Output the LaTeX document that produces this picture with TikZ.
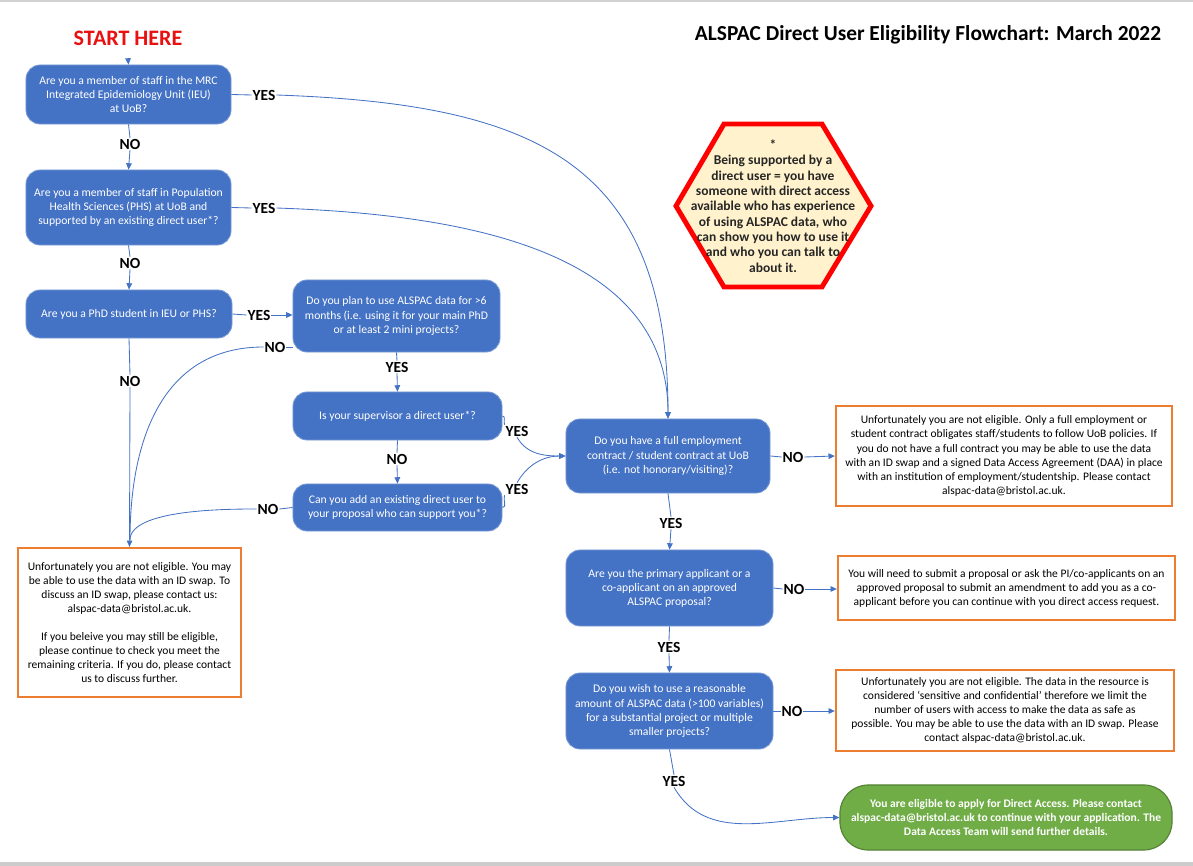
\documentclass[tikz,border=0pt]{standalone}
\usepackage{fontspec}
\setmainfont{Carlito}
\usetikzlibrary{arrows.meta}

\definecolor{qblue}{HTML}{4472C4}
\definecolor{qorange}{HTML}{ED7D31}
\definecolor{qgreen}{HTML}{70AD47}
\definecolor{qgreenedge}{HTML}{548235}
\definecolor{noteyellow}{HTML}{FFF2CC}
\definecolor{notered}{HTML}{FF0000}
\definecolor{startred}{HTML}{E81010}

\tikzset{
  question/.style={draw=qblue!70!white, line width=0.6pt, fill=qblue, text=white,
    rounded corners=10pt, align=center, inner sep=2pt,
    font=\fontsize{8.3}{10}\selectfont},
  outcome/.style={draw=qorange, line width=1.6pt, fill=white, align=center,
    inner sep=2pt, font=\fontsize{8.2}{10}\selectfont},
  answer/.style={inner sep=0.6pt, font=\fontsize{11}{13}\selectfont\bfseries},
  flow/.style={draw=qblue, line width=0.6pt},
  >={Triangle[length=4.5pt,width=4pt]}
}

\begin{document}
\begin{tikzpicture}[x=0.025cm, y=-0.025cm]
        \useasboundingbox (0,0) rectangle (1193,866);
        \fill[gray!35] (0,0) rectangle (1193,2);
        \fill[gray!40] (0,862) rectangle (1193,866);

        \node[text=startred, font=\fontsize{15.7}{18}\selectfont\bfseries] (start) at (128,38) {START HERE};
        \node[font=\fontsize{15.2}{18}\selectfont\bfseries] (title) at (928,35) {ALSPAC Direct User Eligibility Flowchart: March 2022};

        \node[question, minimum width=5.125cm, minimum height=1.475cm] (b1) at (128.5,94.5) {Are you a member of staff in the MRC\\Integrated Epidemiology Unit (IEU)\\at UoB?};
        \node[question, minimum width=5.125cm, minimum height=1.875cm] (b2) at (128.5,207.5) {Are you a member of staff in Population\\Health Sciences (PHS) at UoB and\\supported by an existing direct user*?};
        \node[question, minimum width=5.15cm, minimum height=1.2cm] (b3) at (129,314) {Are you a PhD student in IEU or PHS?};
        \node[question, minimum width=5.175cm, minimum height=1.8cm] (b4) at (396.5,316) {Do you plan to use ALSPAC data for >6\\months (i.e. using it for your main PhD\\or at least 2 mini projects?};
        \node[question, minimum width=5.225cm, minimum height=1.2cm] (b5) at (397.5,416) {Is your supervisor a direct user*?};
        \node[question, minimum width=5.225cm, minimum height=1.175cm] (b6) at (397.5,507.5) {Can you add an existing direct user to\\your proposal who can support you*?};
        \node[question, minimum width=5.1cm, minimum height=1.85cm] (b7) at (668,456) {Do you have a full employment\\contract / student contract at UoB\\(i.e. not honorary/visiting)?};
        \node[question, minimum width=5.175cm, minimum height=1.9cm] (b8) at (669.5,588) {Are you the primary applicant or a\\co-applicant on an approved\\ALSPAC proposal?};
        \node[question, minimum width=5.175cm, minimum height=1.9cm] (b9) at (669.5,711) {Do you wish to use a reasonable\\amount of ALSPAC data (>100 variables)\\for a substantial project or multiple\\smaller projects?};

        \node[outcome, minimum width=5.575cm, minimum height=3.725cm] (r0) at (129.5,622.5) {Unfortunately you are not eligible. You may\\be able to use the data with an ID swap. To\\discuss an ID swap, please contact us:\\alspac-data@bristol.ac.uk.\\[10pt]If you beleive you may still be eligible,\\please continue to check you meet the\\remaining criteria. If you do, please contact\\us to discuss further.};
        \node[outcome, minimum width=8.4cm, minimum height=2.5cm] (r1) at (1004,456) {Unfortunately you are not eligible. Only a full employment or\\student contract obligates staff/students to follow UoB policies. If\\you do not have a full contract you may be able to use the data\\with an ID swap and a signed Data Access Agreement (DAA) in place\\with an institution of employment/studentship. Please contact\\alspac-data@bristol.ac.uk.};
        \node[outcome, minimum width=8.425cm, minimum height=1.6cm] (r2) at (1006.5,588) {You will need to submit a proposal or ask the PI/co-applicants on an\\approved proposal to submit an amendment to add you as a co-\\applicant before you can continue with you direct access request.};
        \node[outcome, minimum width=8.45cm, minimum height=2.025cm] (r3) at (1005,710.5) {Unfortunately you are not eligible. The data in the resource is\\considered ‘sensitive and confidential’ therefore we limit the\\number of users with access to make the data as safe as\\possible. You may be able to use the data with an ID swap. Please\\contact alspac-data@bristol.ac.uk.};
        \node[draw=qgreenedge, line width=0.8pt, fill=qgreen, text=white, rounded corners=20pt, align=center,
          minimum width=8.3cm, minimum height=1.625cm, font=\fontsize{8.2}{10}\selectfont\bfseries] (ok) at (1006,817.5) {You are eligible to apply for Direct Access. Please contact\\alspac-data@bristol.ac.uk to continue with your application. The\\Data Access Team will send further details.};

        \draw[draw=notered, line width=3.5pt, fill=noteyellow, line join=miter]
          (676,206) -- (724,124) -- (822,124) -- (871,206) -- (822,287) -- (724,287) -- cycle;
        \node[align=center, text=black!85, font=\fontsize{9.6}{10.9}\selectfont\bfseries] (note) at (773,206) {*\\Being supported by a\\direct user = you have\\someone with direct access\\available who has experience\\of using ALSPAC data, who\\can show you how to use it\\and who you can talk to\\about it.};

        \node[answer] (n1) at (130,144) {NO};
        \node[answer] (n2) at (130,263) {NO};
        \node[answer] (n3) at (130,381) {NO};
        \node[answer] (n4) at (275,347) {NO};
        \node[answer] (n5) at (397,459) {NO};
        \node[answer] (n6) at (268,509) {NO};
        \node[answer] (n7) at (793,457) {NO};
        \node[answer] (n8) at (794,589) {NO};
        \node[answer] (n9) at (792,711) {NO};
        \node[answer] (y1) at (264,95) {YES};
        \node[answer] (y2) at (264,208) {YES};
        \node[answer] (y3) at (259,315) {YES};
        \node[answer] (y4) at (397,367) {YES};
        \node[answer] (y5) at (517,431) {YES};
        \node[answer] (y6) at (517,489) {YES};
        \node[answer] (y7) at (671,523) {YES};
        \node[answer] (y8) at (669,647) {YES};
        \node[answer] (y9) at (674,781) {YES};
        \coordinate (m) at (130,540);

        \draw[flow,->] (start.south) ++(0,8) -- (b1.north);
        \draw[flow] (b1.south) -- (n1.north);
        \draw[flow,->] (n1.south) -- (b2.north);
        \draw[flow] (b2.south) -- (n2.north);
        \draw[flow,->] (n2.south) -- (b3.north);
        \draw[flow] (b3.south) -- (n3.north);
        \draw[flow,->] (n3.south) -- (r0.north);
        \draw[flow] (b1.east) -- (y1.west);
        \draw[flow,->] (y1.east) to[out=-2,in=90,looseness=1.3] (b7.north);
        \draw[flow] (b2.east) -- (y2.west);
        \draw[flow,->] (y2.east) to[out=-2,in=90] (b7.north);
        \draw[flow] (b3.east) -- (y3.west);
        \draw[flow,->] (y3.east) -- (b4.west |- y3);
        \draw[flow] (b4.west |- n4) -- (n4.east);
        \draw[flow] (n4.west) to[out=180,in=90,looseness=1.1] (m);
        \draw[flow] (b4.south) -- (y4.north);
        \draw[flow,->] (y4.south) -- (b5.north);
        \draw[flow] (b5.south) -- (n5.north);
        \draw[flow,->] (n5.south) -- (b6.north);
        \draw[flow] (b6.west) -- (n6.east);
        \draw[flow] (n6.west) to[out=180,in=90,looseness=0.6] (m);
        \draw[flow] (b5.east) to[out=0,in=110] (y5.north west);
        \draw[flow,->] (y5.south) to[out=-60,in=180] (b7.west);
        \draw[flow] (b6.east) to[out=0,in=-110] (y6.south west);
        \draw[flow,->] (y6.north) to[out=60,in=180] (b7.west);
        \draw[flow] (b7.east) -- (n7.west);
        \draw[flow,->] (n7.east) -- (r1.west);
        \draw[flow] (b7.south) -- (y7.north);
        \draw[flow,->] (y7.south) -- (b8.north);
        \draw[flow] (b8.east) -- (n8.west);
        \draw[flow,->] (n8.east) -- (r2.west |- n8);
        \draw[flow] (b8.south) -- (y8.north);
        \draw[flow,->] (y8.south) -- (b9.north);
        \draw[flow] (b9.east) -- (n9.west);
        \draw[flow,->] (n9.east) -- (r3.west |- n9);
        \draw[flow] (b9.south) -- (y9.north);
        \draw[flow,->] (y9.south) to[out=-60,in=180] (ok.west);
\end{tikzpicture}
\end{document}
